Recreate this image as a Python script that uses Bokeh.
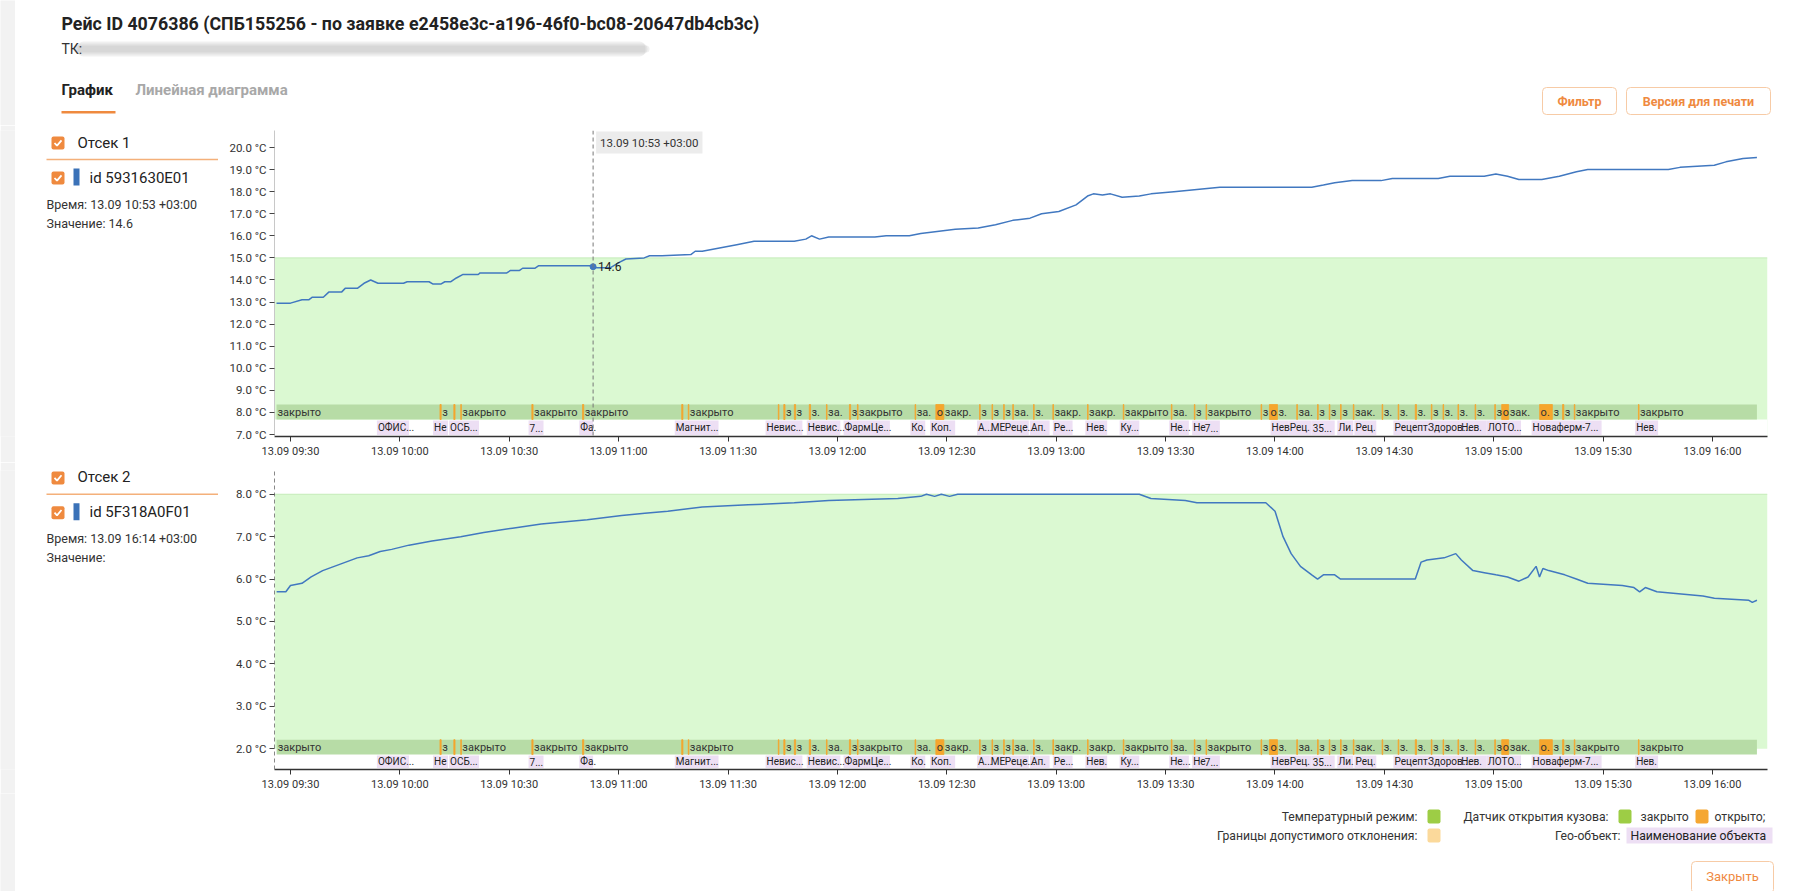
import pandas as pd
from bokeh.plotting import figure
from bokeh.layouts import column, row
from bokeh.models import (Range1d, FixedTicker, PrintfTickFormatter, DatetimeTickFormatter,
                          Span, Label, ColumnDataSource)
from bokeh.embed import file_html
from bokeh.resources import INLINE
from bokeh.core.properties import value

# ---------------- DATA ----------------
DAY = "2023-09-13 "

title_text = "Рейс ID 4076386 (СПБ155256 - по заявке e2458e3c-a196-46f0-bc08-20647db4cb3c)"

s1_time = ["09:26:10", "09:30:00", "09:33:10", "09:35:00", "09:36:00", "09:39:00", "09:40:30", "09:44:00",
           "09:45:00", "09:48:20", "09:50:10", "09:52:00", "09:54:00", "10:01:00", "10:02:00", "10:08:00",
           "10:09:00", "10:11:20", "10:12:20", "10:14:00", "10:15:30", "10:17:20", "10:21:30", "10:22:00",
           "10:29:20", "10:30:20", "10:32:50", "10:33:40", "10:37:00", "10:38:00", "10:52:40", "10:53:20",
           "10:57:40", "11:00:10", "11:02:00", "11:07:00", "11:08:30", "11:11:54", "11:19:48", "11:21:00",
           "11:22:56", "11:27:40", "11:32:24", "11:37:08", "11:48:10", "11:51:20", "11:52:54", "11:55:06",
           "11:57:38", "12:10:16", "12:13:24", "12:19:44", "12:22:52", "12:32:20", "12:38:38", "12:43:22",
           "12:48:06", "12:52:50", "12:56:00", "13:00:44", "13:05:28", "13:08:36", "13:10:12", "13:12:42",
           "13:14:54", "13:18:06", "13:22:48", "13:26:00", "13:32:18", "13:38:36", "13:44:54", "14:10:06",
           "14:13:18", "14:16:24", "14:21:12", "14:29:06", "14:32:12", "14:44:48", "14:48:00", "14:57:24",
           "15:00:36", "15:03:48", "15:06:54", "15:13:12", "15:18:00", "15:22:42", "15:25:48", "15:47:54",
           "15:51:06", "16:00:30", "16:03:42", "16:08:24", "16:12:12"]
s1_temp = [12.95, 12.95, 13.10, 13.10, 13.22, 13.22, 13.45, 13.45,
           13.62, 13.62, 13.85, 14.00, 13.85, 13.85, 13.92, 13.92,
           13.82, 13.82, 13.92, 13.92, 14.09, 14.25, 14.25, 14.32,
           14.32, 14.43, 14.43, 14.53, 14.53, 14.64, 14.64, 14.55,
           14.55, 14.80, 14.95, 15.00, 15.10, 15.10, 15.15, 15.30,
           15.30, 15.45, 15.60, 15.75, 15.75, 15.85, 16.00, 15.85,
           15.95, 15.95, 16.00, 16.00, 16.10, 16.30, 16.35, 16.50,
           16.70, 16.80, 17.00, 17.10, 17.40, 17.80, 17.90, 17.85,
           17.90, 17.75, 17.80, 17.90, 18.00, 18.10, 18.20, 18.20,
           18.30, 18.40, 18.50, 18.50, 18.60, 18.60, 18.70, 18.70,
           18.80, 18.70, 18.55, 18.55, 18.70, 18.90, 19.00, 19.00,
           19.10, 19.20, 19.35, 19.50, 19.55]

s2_time = ["09:26:12", "09:28:44", "09:30:00", "09:33:09", "09:35:40", "09:38:50", "09:42:00", "09:45:09",
           "09:48:18", "09:51:27", "09:54:36", "09:57:46", "10:02:30", "10:08:48", "10:16:41", "10:23:00",
           "10:30:53", "10:38:46", "10:51:24", "11:00:51", "11:07:10", "11:13:28", "11:22:56", "11:35:33",
           "11:48:10", "11:57:38", "12:16:34", "12:22:52", "12:24:26", "12:26:40", "12:28:30", "12:30:46",
           "12:33:00", "13:22:48", "13:26:00", "13:35:25", "13:38:36", "13:57:30", "14:00:02", "14:02:14",
           "14:04:27", "14:07:00", "14:10:06", "14:11:42", "14:13:18", "14:16:24", "14:18:00", "14:38:30",
           "14:40:06", "14:41:42", "14:46:24", "14:49:36", "14:51:08", "14:54:18", "14:57:26", "15:00:36",
           "15:03:48", "15:06:56", "15:09:26", "15:11:38", "15:12:34", "15:13:30", "15:15:06", "15:19:30",
           "15:22:40", "15:25:48", "15:35:17", "15:38:28", "15:40:02", "15:41:36", "15:44:46", "15:57:23",
           "16:00:32", "16:10:00", "16:10:56", "16:12:12"]
s2_temp = [5.70, 5.70, 5.85, 5.90, 6.05, 6.20, 6.30, 6.40,
           6.50, 6.55, 6.65, 6.70, 6.80, 6.90, 7.00, 7.10,
           7.20, 7.30, 7.40, 7.50, 7.55, 7.60, 7.70, 7.75,
           7.80, 7.85, 7.90, 7.95, 8.00, 7.95, 8.00, 7.95,
           8.00, 8.00, 7.90, 7.85, 7.80, 7.80, 7.60, 7.00,
           6.60, 6.30, 6.10, 6.00, 6.10, 6.10, 6.00, 6.00,
           6.40, 6.45, 6.50, 6.60, 6.45, 6.20, 6.15, 6.10,
           6.05, 5.95, 6.05, 6.30, 6.05, 6.25, 6.20, 6.10,
           6.00, 5.90, 5.85, 5.80, 5.70, 5.80, 5.70, 5.60,
           5.55, 5.50, 5.45, 5.50]

limits1 = (2.0, 15.0)
limits2 = (2.0, 8.0)
y_ticks1 = [7.0, 8.0, 9.0, 10.0, 11.0, 12.0, 13.0, 14.0, 15.0, 16.0, 17.0, 18.0, 19.0, 20.0]
y_ticks2 = [2.0, 3.0, 4.0, 5.0, 6.0, 7.0, 8.0]
x_ticks = ["09:30", "10:00", "10:30", "11:00", "11:30", "12:00", "12:30", "13:00", "13:30",
           "14:00", "14:30", "15:00", "15:30", "16:00"]

door_open_start = ["10:11:00", "10:14:48", "10:16:42", "10:36:12", "10:50:06", "11:17:18", "11:19:06",
                   "11:43:48", "11:45:18", "11:48:12", "11:52:18", "11:57:00", "12:03:18", "12:05:30",
                   "12:21:18", "12:27:00", "12:39:00", "12:42:24", "12:45:36", "12:48:06", "12:53:48",
                   "12:59:06", "13:08:36", "13:18:24", "13:31:36", "13:37:54", "13:41:06", "13:56:12",
                   "13:58:30", "14:06:00", "14:11:42", "14:14:54", "14:18:00", "14:21:30", "14:29:24",
                   "14:33:48", "14:38:30", "14:42:54", "14:46:06", "14:50:12", "14:54:54", "15:00:18",
                   "15:02:12", "15:12:36", "15:18:54", "15:22:06", "15:39:42"]
door_open_dur_s = [20, 20, 10, 20, 20, 20, 10,
                   10, 20, 20, 20, 10, 20, 10,
                   10, 132, 10, 10, 10, 10, 10,
                   10, 10, 10, 10, 10, 10, 10,
                   132, 10, 10, 10, 10, 10, 10,
                   10, 20, 10, 10, 10, 10, 10,
                   114, 210, 20, 10, 10]

geo_start = ["09:53:42", "10:09:06", "10:13:30", "10:35:18", "10:49:12", "11:15:24", "11:40:18", "11:51:36",
             "12:01:42", "12:20:00", "12:25:24", "12:38:18", "12:41:48", "12:45:36", "12:52:48", "12:59:06",
             "13:08:00", "13:17:24", "13:31:00", "13:37:18", "13:40:30", "13:58:48", "14:03:48", "14:10:06",
             "14:17:06", "14:21:48", "14:32:30", "14:41:42", "14:50:48", "14:58:06", "15:10:24", "15:38:48"]
geo_end = ["10:02:30", "10:13:12", "10:21:42", "10:39:24", "10:53:00", "11:27:24", "11:50:24", "12:00:48",
           "12:14:24", "12:24:06", "12:32:18", "12:41:48", "12:45:36", "12:52:30", "12:58:12", "13:04:30",
           "13:14:00", "13:22:48", "13:36:24", "13:40:30", "13:44:54", "14:03:48", "14:10:06", "14:16:24",
           "14:21:30", "14:27:48", "14:41:42", "14:50:48", "14:58:06", "15:07:30", "15:29:36", "15:45:06"]
geo_name = ["ОФИС...", "Не", "ОСБ...", "7...", "Фа.", "Магнит...", "Невис...", "Невис...",
            "ФармЦе...", "Ко.", "Коп.", "А...", "МЕ", "Реце...", "Ап.", "Ре...",
            "Нев.", "Ку...", "Не...", "Не", "7...", "Нев", "Рец.", "35...",
            "Ли.", "Рец.", "Рецепт", "Здоров...", "Нев.", "ЛОТО...", "Новаферм-7...", "Нев."]

cursor1 = ("10:53:00", 14.6)

# ---------------- LAYOUT / STYLE ----------------
FONT = "Roboto"
PAGE_W = 1800
STRIP_W = 15
X_START, X_END = "09:25:37", "16:15:06"
PX_PER_MS = 3.646 / 60000.0
SIDE_X1 = 218
CHART_W = PAGE_W - SIDE_X1
LIGHT_GREEN = "#dbf9d2"
BAND_GREEN = "#b7dca6"
ORANGE = "#f5a62d"
LAVENDER = "#eddff4"
LINE_BLUE = "#4178c0"
UI_ORANGE = "#ef8a3f"
STRIP_GRAY = "#f2f2f2"


def ms(t):
    return pd.Timestamp(DAY + t).value / 1e6


def strip_fig(h):
    p = figure(width=STRIP_W, height=h, output_backend="svg", toolbar_location=None, min_border=0,
               x_axis_location=None, y_axis_location=None, x_range=Range1d(0, 1), y_range=Range1d(0, 1))
    p.grid.visible = False
    p.outline_line_color = None
    p.background_fill_color = STRIP_GRAY
    p.border_fill_color = STRIP_GRAY
    return p


def ui_fig(w, h, x0, y0, top=0, bottom=0):
    p = figure(width=w, height=h, x_range=Range1d(x0, x0 + w),
               y_range=Range1d(y0 + h - bottom, y0 + top),
               output_backend="svg", toolbar_location=None, min_border=0,
               min_border_top=top, min_border_bottom=bottom,
               x_axis_location=None, y_axis_location=None)
    p.grid.visible = False
    p.outline_line_color = None
    p.background_fill_color = "white"
    return p


def txt(p, x, y, s, size=12, color="#333333", align="left", bold=False):
    p.add_layout(Label(x=x, y=y, text=s, text_font=FONT, text_font_size=f"{size}px",
                       text_color=color, text_align=align, text_baseline="middle",
                       text_font_style="bold" if bold else "normal"))


def checkbox(p, x, y):
    p.quad(left=x, right=x + 13, top=y, bottom=y + 13, fill_color=UI_ORANGE, line_color=None,
           border_radius=2)
    p.line([x + 3, x + 5.5, x + 10], [y + 6.5, y + 9.2, y + 3.8], line_color="white", line_width=1.8)


def fit_label(word, width_px, cw=5.6):
    if width_px >= len(word) * cw + 3:
        return word
    if width_px < 6:
        return ""
    n = int((width_px - 3) / cw) - 1
    if n < 1:
        return word[0]
    return word[:n] + "."


# ---------------- HEADER ----------------
hdr = ui_fig(PAGE_W - STRIP_W, 125, STRIP_W, 0)
txt(hdr, 61, 23, title_text, size=17.8, color="#222222", bold=True)
txt(hdr, 61, 48, "ТК:", size=14, color="#333333")
for dy, a in [(0, 0.13), (2, 0.13), (4, 0.13)]:
    hdr.quad(left=77 - dy, right=645 + dy, top=41 + dy, bottom=56 - dy, fill_color="#8a8a8a",
             fill_alpha=a, line_color=None, border_radius=6)
txt(hdr, 61, 89, "График", size=15, color="#222222", bold=True)
txt(hdr, 135, 89, "Линейная диаграмма", size=15, color="#a8a8a8", bold=True)
hdr.quad(left=61, right=115, top=110.5, bottom=113, fill_color=UI_ORANGE, line_color=None)
for (l, r, s) in [(1542, 1616, "Фильтр"), (1626, 1770, "Версия для печати")]:
    hdr.quad(left=l, right=r, top=87, bottom=114, fill_color="white", line_color="#f7cba6",
             line_width=1, border_radius=4)
    txt(hdr, (l + r) / 2, 100.5, s, size=12.5, color=UI_ORANGE, align="center", bold=True)


# ---------------- SIDE PANELS ----------------
def side_panel(y0, h, top, bottom, dy, comp, sensor, when, val):
    p = ui_fig(SIDE_X1 - STRIP_W, h, STRIP_W, y0, top, bottom)
    checkbox(p, 51, 136 + dy)
    txt(p, 77, 142 + dy, comp, size=15, color="#222222")
    p.line([46, 236], [159 + dy, 159 + dy], line_color="#f4b07a", line_width=1.5)
    checkbox(p, 51, 171 + dy)
    p.quad(left=73, right=79, top=168 + dy, bottom=185 + dy, fill_color="#3b72b8", line_color=None)
    txt(p, 89, 177 + dy, sensor, size=15, color="#222222")
    txt(p, 46, 203.5 + dy, when, size=12.5, color="#333333")
    txt(p, 46, 223 + dy, val, size=12.5, color="#333333")
    return p


side1 = side_panel(125, 337, 5, 26, 0, "Отсек 1", "id 5931630E01", "Время: 13.09 10:53 +03:00",
                   "Значение: 14.6")
side2 = side_panel(462, 331, 8, 22, 335, "Отсек 2", "id 5F318A0F01", "Время: 13.09 16:14 +03:00",
                   "Значение:")


# ---------------- CHARTS ----------------
def make_chart(times, temps, yr, y_ticks, limits, height, top, bottom, band_lo, band_hi, dashed_axis):
    p = figure(width=CHART_W, height=height, x_axis_type="datetime", output_backend="svg",
               toolbar_location=None, x_range=Range1d(ms(X_START), ms(X_END)),
               y_range=Range1d(*yr), min_border_left=56, min_border_right=33,
               min_border_top=top, min_border_bottom=bottom)
    p.outline_line_color = None
    p.grid.visible = False
    frame_h = height - top - bottom
    p.extra_y_ranges = {"lane": Range1d(0, frame_h)}

    # temperature limits
    p.quad(left=ms(X_START), right=ms(X_END), bottom=limits[0], top=limits[1],
           fill_color=LIGHT_GREEN, line_color=None)
    p.line([ms(X_START), ms(X_END)], [limits[1], limits[1]], line_color="#c4ecb8", line_width=1)

    # temperature line
    xt = [ms(t) for t in times]
    p.line(xt, temps, line_color=LINE_BLUE, line_width=1.5)

    # geo row background
    p.quad(left=ms(X_START), right=ms(X_END), bottom=0, top=band_lo, fill_color="white",
           line_color=None, y_range_name="lane")

    # door sensor band
    b0, b1 = ms(times[0]), ms(times[-1])
    p.quad(left=b0, right=b1, bottom=band_lo, top=band_hi, fill_color=BAND_GREEN,
           line_color=None, y_range_name="lane")
    os_ = [ms(t) for t in door_open_start]
    oe_ = [s + d * 1000 for s, d in zip(os_, door_open_dur_s)]
    p.quad(left=os_, right=oe_, bottom=band_lo, top=band_hi, fill_color=ORANGE,
           line_color=ORANGE, line_width=0.8, y_range_name="lane")
    seg_s = [b0] + oe_
    seg_e = os_ + [b1]
    lx, lt = [], []
    for s, e in zip(seg_s, seg_e):
        lab = fit_label("закрыто", (e - s) * PX_PER_MS)
        if lab:
            lx.append(s)
            lt.append(lab)
    for s, e in zip(os_, oe_):
        w = (e - s) * PX_PER_MS
        if w > 5:
            lx.append(s)
            lt.append(fit_label("открыто", w, cw=4.5) or "о")
    src = ColumnDataSource(dict(x=lx, y=[(band_lo + band_hi) / 2] * len(lx), t=lt))
    p.text(x="x", y="y", text="t", source=src, x_offset=1, text_font=value(FONT),
           text_font_size="11px", text_color="#333333", text_baseline="middle",
           y_range_name="lane")

    # geo objects
    gs = [ms(t) for t in geo_start]
    ge = [ms(t) for t in geo_end]
    p.quad(left=gs, right=ge, bottom=1.5, top=band_lo - 1, fill_color=LAVENDER, line_color=None,
           y_range_name="lane")
    gsrc = ColumnDataSource(dict(x=gs, y=[band_lo / 2 + 0.2] * len(gs), t=geo_name))
    p.text(x="x", y="y", text="t", source=gsrc, x_offset=1, text_font=value(FONT),
           text_font_size="10px", text_color="#222222", text_baseline="middle",
           y_range_name="lane")

    # axes
    p.xaxis.ticker = FixedTicker(ticks=[ms(t) for t in x_ticks])
    fmt = "%d.%m %H:%M"
    p.xaxis.formatter = DatetimeTickFormatter(milliseconds=fmt, seconds=fmt, minsec=fmt, minutes=fmt,
                                              hourmin=fmt, hours=fmt, days=fmt, months=fmt, years=fmt)
    p.xaxis.axis_line_color = "#333333"
    p.xaxis.axis_line_width = 1.5
    p.xaxis.major_tick_line_color = "#333333"
    p.xaxis.major_tick_out = 5
    p.xaxis.major_tick_in = 0
    p.xaxis.minor_tick_line_color = None
    p.xaxis.major_label_standoff = 3
    p.xaxis.major_label_text_font = FONT
    p.xaxis.major_label_text_font_size = "11px"
    p.xaxis.major_label_text_color = "#333333"

    p.yaxis.ticker = FixedTicker(ticks=y_ticks)
    p.yaxis.formatter = PrintfTickFormatter(format="%.1f °C")
    p.yaxis.axis_line_color = "#888888" if dashed_axis else "#c8c8c8"
    if dashed_axis:
        p.yaxis.axis_line_dash = "4 3"
    p.yaxis.major_tick_line_color = "#444444"
    p.yaxis.major_tick_out = 5
    p.yaxis.major_tick_in = 0
    p.yaxis.minor_tick_line_color = None
    p.yaxis.major_label_standoff = 3
    p.yaxis.major_label_text_font = FONT
    p.yaxis.major_label_text_font_size = "11.5px"
    p.yaxis.major_label_text_color = "#333333"
    return p


chart1 = make_chart(s1_time, s1_temp, (6.91, 20.77), y_ticks1, limits1, 337, 5, 26, 17, 32, False)
chart2 = make_chart(s2_time, s2_temp, (1.51, 8.56), y_ticks2, limits2, 331, 8, 22, 15, 30, True)

# cursor on chart 1
ct = ms(cursor1[0])
chart1.add_layout(Span(location=ct, dimension="height", line_color="#777777", line_dash="4 3",
                       line_width=1))
chart1.scatter([ct], [cursor1[1]], size=6, fill_color=LINE_BLUE, line_color=LINE_BLUE)
chart1.add_layout(Label(x=ct, y=cursor1[1], text=f"{cursor1[1]:.1f}", x_offset=5,
                        text_font=FONT, text_font_size="12px", text_color="#222222",
                        text_baseline="middle"))
chart1.add_layout(Label(x=ct, y=20.77, text="13.09 10:53 +03:00", x_offset=3, y_offset=-12,
                        text_font=FONT, text_font_size="11.5px", text_color="#333333",
                        text_baseline="middle", background_fill_color="#ececec",
                        padding=4))

# ---------------- FOOTER ----------------
ftr = ui_fig(PAGE_W - STRIP_W, 98, STRIP_W, 793)
FS = 12.2
txt(ftr, 1417, 816, "Температурный режим:", size=FS, align="right")
ftr.quad(left=1427, right=1440, top=809, bottom=823, fill_color="#9dcd45", line_color=None, border_radius=2)
txt(ftr, 1608, 816, "Датчик открытия кузова:", size=FS, align="right")
ftr.quad(left=1618, right=1631, top=809, bottom=823, fill_color="#9dcd45", line_color=None, border_radius=2)
txt(ftr, 1640, 816, "закрыто", size=FS)
ftr.quad(left=1695, right=1708, top=809, bottom=823, fill_color="#f5a732", line_color=None, border_radius=2)
txt(ftr, 1714, 816, "открыто;", size=FS)
txt(ftr, 1417, 835, "Границы допустимого отклонения:", size=FS, align="right")
ftr.quad(left=1427, right=1440, top=828, bottom=842, fill_color="#fbd99b", line_color=None, border_radius=2)
txt(ftr, 1620, 835, "Гео-объект:", size=FS, align="right")
ftr.quad(left=1626, right=1772, top=827, bottom=843, fill_color=LAVENDER, line_color=None)
txt(ftr, 1630, 835, "Наименование объекта", size=FS, color="#222222")
ftr.quad(left=1691, right=1773, top=861, bottom=893, fill_color="white", line_color="#f7cba6",
         line_width=1, border_radius=4)
txt(ftr, 1732, 876, "Закрыть", size=13, color=UI_ORANGE, align="center")

layout = column(row(strip_fig(125), hdr),
                row(strip_fig(337), side1, chart1),
                row(strip_fig(331), side2, chart2),
                row(strip_fig(98), ftr))
open("out.html", "w").write(file_html(layout, INLINE))
